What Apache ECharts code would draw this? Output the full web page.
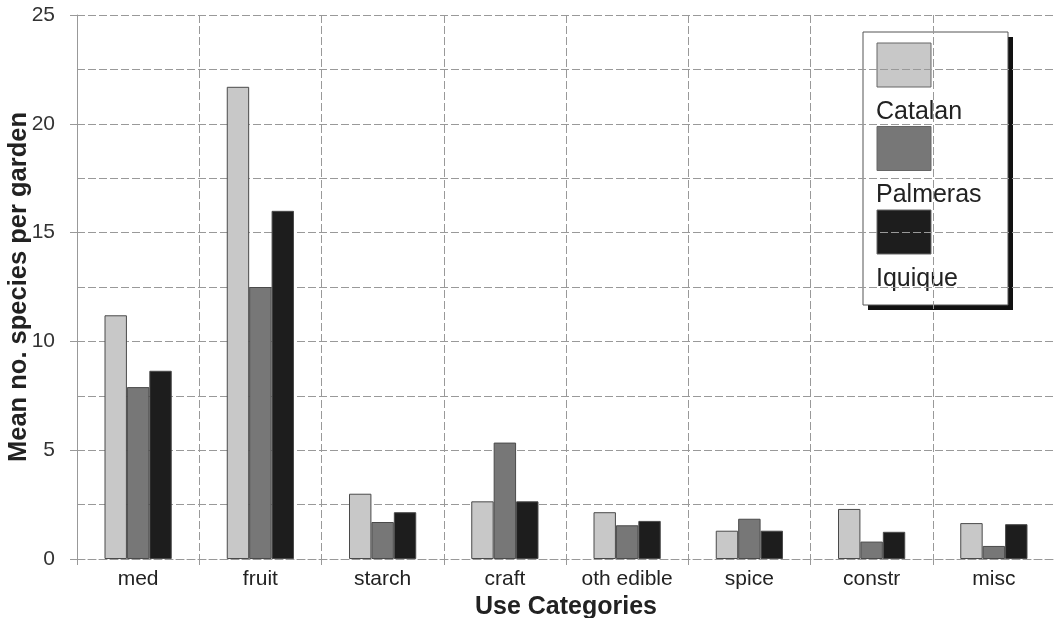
<!DOCTYPE html>
<html>
<head>
<meta charset="utf-8">
<script src="https://cdn.jsdelivr.net/npm/echarts@6/dist/echarts.min.js"></script>
<style>
html,body{margin:0;padding:0;background:#fff;}
#chart{width:1055px;height:618px;}
</style>
</head>
<body>
<div id="chart"></div>
<script>
const categories = ['med', 'fruit', 'starch', 'craft', 'oth edible', 'spice', 'constr', 'misc'];
const seriesNames = ['Catalan', 'Palmeras', 'Iquique'];
const catalan  = [11.2, 21.7, 3.0, 2.65, 2.15, 1.3, 2.3, 1.65];
const palmeras = [7.9, 12.5, 1.7, 5.35, 1.55, 1.85, 0.8, 0.6];
const iquique  = [8.65, 16.0, 2.15, 2.65, 1.75, 1.3, 1.25, 1.6];
const yTicks = [0, 5, 10, 15, 20, 25];

const colors = ['#c8c8c8', '#777777', '#1d1d1d'];
const font = '"Liberation Sans", Arial, sans-serif';
const gridColor = '#999999';
const dash = [8, 3];

const chart = echarts.init(document.getElementById('chart'), null, {renderer: 'canvas'});

const values = [catalan, palmeras, iquique];
const series = seriesNames.map((name, i) => ({
  name: name,
  type: 'bar',
  data: values[i],
  barGap: '0%',
  barCategoryGap: '45%',
  itemStyle: { color: colors[i], borderColor: '#4a4a4a', borderWidth: 1 }
}));

// legend drawn as graphic (swatch above label, like the reference)
const legendX = 863, legendY = 32, legendW = 145, legendH = 273;
const legendChildren = [
  { type: 'rect', shape: { x: legendX + 5, y: legendY + 5, width: legendW, height: legendH }, style: { fill: '#111' } },
  { type: 'rect', shape: { x: legendX, y: legendY, width: legendW, height: legendH }, style: { fill: '#fff', stroke: '#555', lineWidth: 1 } }
];
seriesNames.forEach((name, i) => {
  const top = legendY + 11 + i * 83.5;
  legendChildren.push({ type: 'rect', shape: { x: 877, y: top, width: 54, height: 44 }, style: { fill: colors[i], stroke: '#666', lineWidth: 1 } });
  legendChildren.push({ type: 'text', style: { x: 876, y: top + 69, text: name, font: '25px ' + font, fill: '#222', verticalAlign: 'middle', align: 'left' } });
});

chart.setOption({
  animation: false,
  backgroundColor: '#fff',
  grid: { left: 77, right: 0, top: 15, bottom: 59, containLabel: false, outerBoundsMode: 'none' },
  legend: { show: false, data: seriesNames },
  xAxis: {
    type: 'category',
    data: categories,
    name: 'Use Categories',
    nameLocation: 'middle',
    nameGap: 33,
    nameTextStyle: { fontFamily: font, fontWeight: 'bold', fontSize: 25, color: '#222' },
    axisLine: { show: true, lineStyle: { color: gridColor, type: dash, width: 1 } },
    axisTick: { show: true, length: 6, lineStyle: { color: gridColor } },
    axisLabel: { fontFamily: font, fontSize: 21, color: '#222', margin: 10 },
    splitLine: { show: true, lineStyle: { color: gridColor, type: dash, width: 1 } }
  },
  yAxis: {
    type: 'value',
    min: 0,
    max: 25,
    interval: 5,
    name: 'Mean no. species per garden',
    nameLocation: 'middle',
    nameGap: 45,
    nameMoveOverlap: false,
    nameTextStyle: { fontFamily: font, fontWeight: 'bold', fontSize: 25.5, color: '#222' },
    axisLine: { show: true, lineStyle: { color: gridColor, type: dash, width: 1 } },
    axisTick: { show: true, length: 7, lineStyle: { color: gridColor } },
    axisLabel: {
      fontFamily: font, fontSize: 21, color: '#333', margin: 22,
      formatter: v => (yTicks.indexOf(v) >= 0 ? String(v) : '')
    },
    splitLine: { show: true, lineStyle: { color: gridColor, type: dash, width: 1 } },
    minorTick: { show: false, splitNumber: 2 },
    minorSplitLine: { show: true, lineStyle: { color: gridColor, type: dash, width: 1 } }
  },
  series: series,
  graphic: [{ type: 'group', z: 100, children: legendChildren }]
});
</script>
</body>
</html>
